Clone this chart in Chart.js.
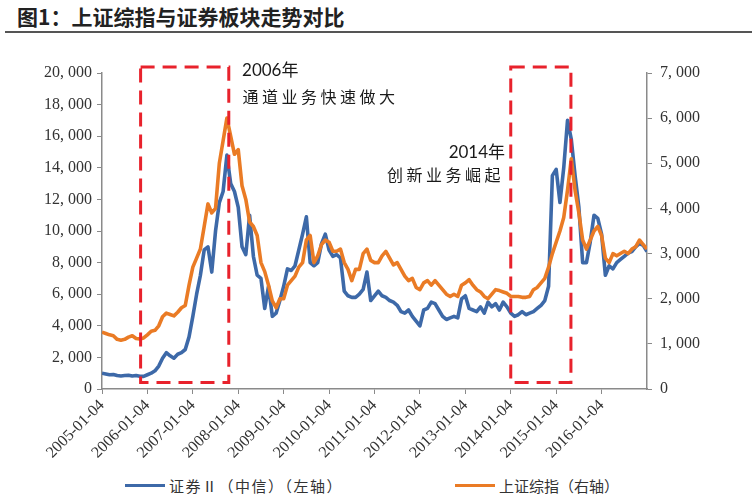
<!DOCTYPE html>
<html>
<head>
<meta charset="utf-8">
<script src="https://cdn.jsdelivr.net/npm/chart.js@4/dist/chart.umd.min.js"></script>
<style>
  body { margin: 0; background: #fff; width: 752px; height: 500px; position: relative; overflow: hidden; }
  #title {
    position: absolute; left: 5px; top: 0; width: 747px; height: 33px;
    border-bottom: 2px solid #555;
    font: bold 21px "Noto Sans CJK SC", sans-serif; color: #222;
    line-height: 33px; padding-left: 12px; box-sizing: border-box;
  }
  #chartBox { position: absolute; left: 0; top: 34px; width: 752px; height: 436px; }
  #legend {
    position: absolute; left: 0; top: 474px; width: 752px; height: 22px;
    font: 15px "Noto Sans CJK SC", sans-serif; color: #333;
  }
  #legend .item { position: absolute; top: 0; height: 22px; display: flex; align-items: center; white-space: nowrap; }
  #legend .swatch { width: 40px; height: 3px; margin-right: 4px; }
</style>
</head>
<body>
<div id="title">图1：上证综指与证券板块走势对比</div>
<div id="chartBox"><canvas id="trendChart"></canvas></div>
<div id="legend"></div>
<script>
// monthly readings, 2005-01 .. 2017-01 (index = months since 2005-01)
const xTickLabels = [
  "2005-01-04", "2006-01-04", "2007-01-04", "2008-01-04", "2009-01-04", "2010-01-04",
  "2011-01-04", "2012-01-04", "2013-01-04", "2014-01-04", "2015-01-04", "2016-01-04"
];

// 证券Ⅱ（中信）, left axis
const securitiesValues = [
  1000, 950, 900, 920, 850, 820, 850, 870, 820, 850, 800, 800,
  900, 1000, 1150, 1450, 1950, 2300, 2100, 1950, 2200, 2300, 2500, 3300,
  4600, 6000, 7200, 8800, 9000, 7400, 10000, 11800, 12500, 14800, 13000, 12500,
  11500, 9000, 8500, 11000, 8400, 7200, 7000, 5100, 6500, 4600, 4800, 5600,
  6500, 7600, 7500, 7800, 8800, 9800, 10900, 8000, 7800, 8000, 9200, 9800,
  8800, 8400, 8500, 8300, 6200, 5900, 5800, 5800, 6000, 6300, 7400, 5600,
  5900, 6200, 5900, 5800, 5600, 5500, 5300, 4900, 4800, 5000, 4600, 4300,
  4000, 5000, 5100, 5500, 5400, 5000, 4600, 4400, 4500, 4600, 4500, 5700,
  5900, 5100, 5000, 4900, 5200, 4800, 5500, 5200, 5400, 5000, 5500, 5200,
  4800, 4600, 4700, 4900, 4700, 4800, 4900, 5100, 5300, 5600, 6500, 13500,
  13900, 11800, 14000, 17000, 15800, 13500, 11500, 8000, 8000, 9300, 11000, 10800,
  9800, 7200, 7800, 7600, 8000, 8200, 8400, 8600, 8700, 9000, 9200, 9100,
  8700
];

// 上证综指, right axis
const shIndexValues = [
  1260, 1230, 1200, 1180, 1100, 1080, 1100, 1150, 1180, 1120, 1110, 1130,
  1200, 1280, 1300, 1400, 1600, 1680, 1650, 1620, 1700, 1800, 1850, 2300,
  2700, 2900, 3100, 3600, 4100, 3900, 4000, 5000, 5500, 6000, 5600, 5200,
  5300, 4500, 4200, 3700, 3600, 3400, 2800, 2600, 2300, 1950, 1800, 2000,
  2000, 2300, 2400, 2500, 2700, 2800, 3300, 3400, 2800, 2950, 3200, 3300,
  3250, 3050, 3050, 3100, 2800, 2650, 2400, 2650, 2650, 3000, 3100, 2850,
  2800, 2800, 2950, 3050, 2900, 2750, 2800, 2650, 2500, 2400, 2450, 2250,
  2200, 2350, 2400, 2300, 2400, 2300, 2200, 2100, 2050, 2100, 2050, 2300,
  2350, 2420, 2300, 2200, 2150, 2050, 2000, 2100, 2200, 2180, 2150, 2120,
  2050, 2050, 2050, 2030, 2030, 2050, 2200, 2250, 2350, 2450, 2700, 3000,
  3250, 3500, 3800, 4400, 5100, 4400, 3900, 3300, 3100, 3300, 3500, 3600,
  3400, 2900, 2800, 3000, 2950, 3000, 3050, 3000, 3100, 3150, 3300, 3200,
  3100
];

// dashed highlight boxes (month index range)
const highlightBoxes = [
  { from: 10.2, to: 33.5 },
  { from: 108.0, to: 123.9 }
];

const BLUE = "#3D69A8";
const ORANGE = "#EA7B25";
const AXIS_GREY = "#8a8a8a";
const legendLefts = [125, 455];

// annotation texts, placed in (month, left-axis value) coordinates
const notes = [
  { text: "2006年", x: 37.0, y: 19800, align: "left", font: '17px Lato, "Noto Sans CJK SC", sans-serif', spacing: "0px" },
  { text: "通道业务快速做大", x: 37.1, y: 18100, align: "left", font: '16px "Noto Sans CJK SC", sans-serif', spacing: "3.5px" },
  { text: "2014年", x: 106.5, y: 14630, align: "right", font: '17px Lato, "Noto Sans CJK SC", sans-serif', spacing: "0px" },
  { text: "创新业务崛起", x: 106.2, y: 13175, align: "right", font: '16px "Noto Sans CJK SC", sans-serif', spacing: "3.5px" }
];

function formatThousands(v) {
  return v.toLocaleString("en-US").replace(",", ", ");
}

const notesPlugin = {
  id: "notes",
  afterDatasetsDraw(chart) {
    const { ctx, scales } = chart;
    const x = scales.x;
    const y = scales.yL;
    ctx.save();
    ctx.strokeStyle = "#E8222C";
    ctx.lineWidth = 3;
    ctx.setLineDash([14, 8]);
    highlightBoxes.forEach((b) => {
      const left = x.getPixelForValue(b.from);
      const right = x.getPixelForValue(b.to);
      const top = y.getPixelForValue(20380);
      const bottom = y.getPixelForValue(410);
      ctx.strokeRect(left, top, right - left, bottom - top);
    });
    ctx.setLineDash([]);
    ctx.fillStyle = "#1a1a1a";
    ctx.textBaseline = "alphabetic";
    notes.forEach((n) => {
      ctx.font = n.font;
      ctx.letterSpacing = n.spacing;
      ctx.textAlign = n.align;
      ctx.fillText(n.text, x.getPixelForValue(n.x), y.getPixelForValue(n.y));
    });
    ctx.restore();
  }
};

const toPoints = (arr) => arr.map((v, i) => ({ x: i, y: v }));
const tickFont = { family: "'Liberation Serif', 'DejaVu Serif', serif", size: 16 };

const chart = new Chart(document.getElementById("trendChart"), {
  type: "line",
  data: {
    datasets: [
      {
        label: "证券Ⅱ（中信）（左轴）",
        data: toPoints(securitiesValues),
        yAxisID: "yL",
        borderColor: BLUE,
        backgroundColor: BLUE,
        order: 2
      },
      {
        label: "上证综指（右轴）",
        data: toPoints(shIndexValues),
        yAxisID: "yR",
        borderColor: ORANGE,
        backgroundColor: ORANGE,
        order: 1
      }
    ]
  },
  options: {
    responsive: true,
    maintainAspectRatio: false,
    animation: false,
    layout: { padding: { top: 39, left: 0, right: 0, bottom: 0 } },
    elements: {
      point: { radius: 0 },
      line: { borderWidth: 3.6, tension: 0, borderJoinStyle: "round" }
    },
    plugins: {
      legend: { display: false },
      tooltip: { enabled: false }
    },
    scales: {
      x: {
        type: "linear",
        min: 0,
        max: 144,
        afterBuildTicks: (scale) => {
          scale.ticks = xTickLabels.map((_, i) => ({ value: i * 12 }));
        },
        afterFit: (scale) => { scale.height = 81; },
        grid: { drawOnChartArea: false, tickLength: 5, color: AXIS_GREY },
        border: { color: AXIS_GREY, width: 1.5 },
        ticks: {
          autoSkip: false,
          maxRotation: 45,
          minRotation: 45,
          padding: 2,
          color: "#333",
          font: tickFont,
          callback: (value) => xTickLabels[value / 12] || ""
        }
      },
      yL: {
        position: "left",
        min: 0,
        max: 20000,
        afterFit: (scale) => { scale.width = 102; },
        grid: { drawOnChartArea: false, tickLength: 5, color: AXIS_GREY },
        border: { color: AXIS_GREY, width: 1.5 },
        ticks: {
          stepSize: 2000,
          padding: 5,
          color: "#333",
          font: tickFont,
          callback: (v) => formatThousands(v)
        }
      },
      yR: {
        position: "right",
        min: 0,
        max: 7000,
        afterFit: (scale) => { scale.width = 105; },
        grid: { drawOnChartArea: false, tickLength: 5, color: AXIS_GREY },
        border: { color: AXIS_GREY, width: 1.5 },
        ticks: {
          stepSize: 1000,
          padding: 8,
          color: "#333",
          font: tickFont,
          callback: (v) => formatThousands(v)
        }
      }
    }
  },
  plugins: [notesPlugin]
});

// html legend built from the datasets
const legendEl = document.getElementById("legend");
chart.data.datasets.forEach((ds, i) => {
  const item = document.createElement("div");
  item.className = "item";
  item.style.left = legendLefts[i] + "px";
  const swatch = document.createElement("span");
  swatch.className = "swatch";
  swatch.style.background = ds.borderColor;
  const label = document.createElement("span");
  label.textContent = ds.label;
  if (i === 0) label.style.letterSpacing = "1.5px";
  item.appendChild(swatch);
  item.appendChild(label);
  legendEl.appendChild(item);
});
</script>
</body>
</html>
